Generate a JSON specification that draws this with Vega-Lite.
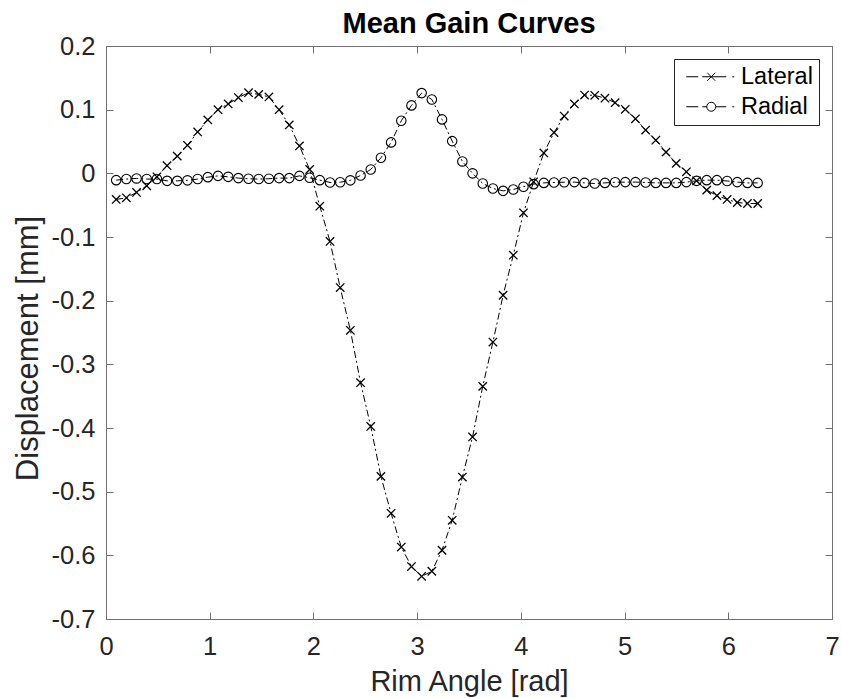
{
  "$schema": "https://vega.github.io/schema/vega-lite/v6.json",
  "width": 726,
  "height": 573,
  "autosize": {"type": "none"},
  "padding": {"left": 106, "top": 46, "right": 10, "bottom": 79},
  "background": "white",
  "title": {"text": "Mean Gain Curves", "font": "Liberation Sans", "fontSize": 29, "fontWeight": "bold", "color": "black", "anchor": "middle", "frame": "group", "baseline": "alphabetic", "offset": 0, "dy": 28},
  "config": {
    "view": {"stroke": null},
    "axis": {"grid": false, "domainColor": "#707070", "tickColor": "#707070", "domainWidth": 1, "tickWidth": 1, "labelFont": "Liberation Sans", "labelColor": "#262626", "labelFontSize": 25.5, "titleFont": "Liberation Sans", "titleColor": "#262626", "titleFontWeight": "normal", "titleFontSize": 29, "labelFlush": false, "labelOverlap": false}
  },
  "data": {"values": [
    {"k":1,"x":0.0982,"series":"Lateral","y":-0.041},{"k":2,"x":0.1963,"series":"Lateral","y":-0.0385},{"k":3,"x":0.2945,"series":"Lateral","y":-0.030},{"k":4,"x":0.3927,"series":"Lateral","y":-0.0196},{"k":5,"x":0.4909,"series":"Lateral","y":-0.0055},{"k":6,"x":0.5890,"series":"Lateral","y":0.012},{"k":7,"x":0.6872,"series":"Lateral","y":0.027},{"k":8,"x":0.7854,"series":"Lateral","y":0.044},{"k":9,"x":0.8836,"series":"Lateral","y":0.065},{"k":10,"x":0.9817,"series":"Lateral","y":0.084},
    {"k":11,"x":1.0799,"series":"Lateral","y":0.100},{"k":12,"x":1.1781,"series":"Lateral","y":0.109},{"k":13,"x":1.2763,"series":"Lateral","y":0.119},{"k":14,"x":1.3744,"series":"Lateral","y":0.1266},{"k":15,"x":1.4726,"series":"Lateral","y":0.124},{"k":16,"x":1.5708,"series":"Lateral","y":0.120},{"k":17,"x":1.6690,"series":"Lateral","y":0.100},{"k":18,"x":1.7671,"series":"Lateral","y":0.076},{"k":19,"x":1.8653,"series":"Lateral","y":0.043},{"k":20,"x":1.9635,"series":"Lateral","y":0.006},
    {"k":21,"x":2.0617,"series":"Lateral","y":-0.0516},{"k":22,"x":2.1598,"series":"Lateral","y":-0.107},{"k":23,"x":2.2580,"series":"Lateral","y":-0.1794},{"k":24,"x":2.3562,"series":"Lateral","y":-0.2465},{"k":25,"x":2.4544,"series":"Lateral","y":-0.3288},{"k":26,"x":2.5525,"series":"Lateral","y":-0.3975},{"k":27,"x":2.6507,"series":"Lateral","y":-0.476},{"k":28,"x":2.7489,"series":"Lateral","y":-0.534},{"k":29,"x":2.8471,"series":"Lateral","y":-0.587},{"k":30,"x":2.9452,"series":"Lateral","y":-0.6176},
    {"k":31,"x":3.0434,"series":"Lateral","y":-0.633},{"k":32,"x":3.1416,"series":"Lateral","y":-0.625},{"k":33,"x":3.2398,"series":"Lateral","y":-0.592},{"k":34,"x":3.3379,"series":"Lateral","y":-0.545},{"k":35,"x":3.4361,"series":"Lateral","y":-0.477},{"k":36,"x":3.5343,"series":"Lateral","y":-0.414},{"k":37,"x":3.6325,"series":"Lateral","y":-0.3346},{"k":38,"x":3.7306,"series":"Lateral","y":-0.265},{"k":39,"x":3.8288,"series":"Lateral","y":-0.1915},{"k":40,"x":3.9270,"series":"Lateral","y":-0.1286},
    {"k":41,"x":4.0252,"series":"Lateral","y":-0.062},{"k":42,"x":4.1233,"series":"Lateral","y":-0.0133},{"k":43,"x":4.2215,"series":"Lateral","y":0.032},{"k":44,"x":4.3197,"series":"Lateral","y":0.064},{"k":45,"x":4.4179,"series":"Lateral","y":0.090},{"k":46,"x":4.5160,"series":"Lateral","y":0.109},{"k":47,"x":4.6142,"series":"Lateral","y":0.123},{"k":48,"x":4.7124,"series":"Lateral","y":0.1225},{"k":49,"x":4.8106,"series":"Lateral","y":0.118},{"k":50,"x":4.9087,"series":"Lateral","y":0.111},
    {"k":51,"x":5.0069,"series":"Lateral","y":0.1005},{"k":52,"x":5.1051,"series":"Lateral","y":0.0857},{"k":53,"x":5.2033,"series":"Lateral","y":0.068},{"k":54,"x":5.3014,"series":"Lateral","y":0.052},{"k":55,"x":5.3996,"series":"Lateral","y":0.0333},{"k":56,"x":5.4978,"series":"Lateral","y":0.0156},{"k":57,"x":5.5960,"series":"Lateral","y":0.0024},{"k":58,"x":5.6941,"series":"Lateral","y":-0.0118},{"k":59,"x":5.7923,"series":"Lateral","y":-0.0264},{"k":60,"x":5.8905,"series":"Lateral","y":-0.035},
    {"k":61,"x":5.9887,"series":"Lateral","y":-0.041},{"k":62,"x":6.0868,"series":"Lateral","y":-0.0458},{"k":63,"x":6.1850,"series":"Lateral","y":-0.0474},{"k":64,"x":6.2832,"series":"Lateral","y":-0.0474},
    {"k":1,"x":0.0982,"series":"Radial","y":-0.0107},{"k":2,"x":0.1963,"series":"Radial","y":-0.009},{"k":3,"x":0.2945,"series":"Radial","y":-0.008},{"k":4,"x":0.3927,"series":"Radial","y":-0.009},{"k":5,"x":0.4909,"series":"Radial","y":-0.009},{"k":6,"x":0.5890,"series":"Radial","y":-0.0118},{"k":7,"x":0.6872,"series":"Radial","y":-0.0118},{"k":8,"x":0.7854,"series":"Radial","y":-0.011},{"k":9,"x":0.8836,"series":"Radial","y":-0.009},{"k":10,"x":0.9817,"series":"Radial","y":-0.006},
    {"k":11,"x":1.0799,"series":"Radial","y":-0.004},{"k":12,"x":1.1781,"series":"Radial","y":-0.0055},{"k":13,"x":1.2763,"series":"Radial","y":-0.0075},{"k":14,"x":1.3744,"series":"Radial","y":-0.0085},{"k":15,"x":1.4726,"series":"Radial","y":-0.009},{"k":16,"x":1.5708,"series":"Radial","y":-0.0085},{"k":17,"x":1.6690,"series":"Radial","y":-0.0075},{"k":18,"x":1.7671,"series":"Radial","y":-0.0075},{"k":19,"x":1.8653,"series":"Radial","y":-0.004},{"k":20,"x":1.9635,"series":"Radial","y":-0.007},
    {"k":21,"x":2.0617,"series":"Radial","y":-0.0107},{"k":22,"x":2.1598,"series":"Radial","y":-0.0143},{"k":23,"x":2.2580,"series":"Radial","y":-0.014},{"k":24,"x":2.3562,"series":"Radial","y":-0.011},{"k":25,"x":2.4544,"series":"Radial","y":-0.0033},{"k":26,"x":2.5525,"series":"Radial","y":0.006},{"k":27,"x":2.6507,"series":"Radial","y":0.0244},{"k":28,"x":2.7489,"series":"Radial","y":0.0486},{"k":29,"x":2.8471,"series":"Radial","y":0.0826},{"k":30,"x":2.9452,"series":"Radial","y":0.1067},
    {"k":31,"x":3.0434,"series":"Radial","y":0.126},{"k":32,"x":3.1416,"series":"Radial","y":0.116},{"k":33,"x":3.2398,"series":"Radial","y":0.0847},{"k":34,"x":3.3379,"series":"Radial","y":0.0506},{"k":35,"x":3.4361,"series":"Radial","y":0.0187},{"k":36,"x":3.5343,"series":"Radial","y":0.0},{"k":37,"x":3.6325,"series":"Radial","y":-0.016},{"k":38,"x":3.7306,"series":"Radial","y":-0.0238},{"k":39,"x":3.8288,"series":"Radial","y":-0.0275},{"k":40,"x":3.9270,"series":"Radial","y":-0.0254},
    {"k":41,"x":4.0252,"series":"Radial","y":-0.021},{"k":42,"x":4.1233,"series":"Radial","y":-0.017},{"k":43,"x":4.2215,"series":"Radial","y":-0.015},{"k":44,"x":4.3197,"series":"Radial","y":-0.0143},{"k":45,"x":4.4179,"series":"Radial","y":-0.014},{"k":46,"x":4.5160,"series":"Radial","y":-0.0138},{"k":47,"x":4.6142,"series":"Radial","y":-0.015},{"k":48,"x":4.7124,"series":"Radial","y":-0.016},{"k":49,"x":4.8106,"series":"Radial","y":-0.015},{"k":50,"x":4.9087,"series":"Radial","y":-0.014},
    {"k":51,"x":5.0069,"series":"Radial","y":-0.0138},{"k":52,"x":5.1051,"series":"Radial","y":-0.0138},{"k":53,"x":5.2033,"series":"Radial","y":-0.0143},{"k":54,"x":5.3014,"series":"Radial","y":-0.015},{"k":55,"x":5.3996,"series":"Radial","y":-0.015},{"k":56,"x":5.4978,"series":"Radial","y":-0.015},{"k":57,"x":5.5960,"series":"Radial","y":-0.0138},{"k":58,"x":5.6941,"series":"Radial","y":-0.0118},{"k":59,"x":5.7923,"series":"Radial","y":-0.0107},{"k":60,"x":5.8905,"series":"Radial","y":-0.0107},
    {"k":61,"x":5.9887,"series":"Radial","y":-0.012},{"k":62,"x":6.0868,"series":"Radial","y":-0.0138},{"k":63,"x":6.1850,"series":"Radial","y":-0.015},{"k":64,"x":6.2832,"series":"Radial","y":-0.015}
  ]},
  "layer": [
    {
      "mark": {"type": "line", "stroke": "black", "strokeWidth": 1, "strokeDash": [7, 3, 2, 3]},
      "encoding": {
        "x": {"field": "x", "type": "quantitative", "scale": {"domain": [0, 7], "nice": false, "zero": false},
              "axis": {"orient": "bottom", "values": [0,1,2,3,4,5,6,7], "format": "d", "tickSize": -7, "labelPadding": 22.5, "title": "Rim Angle [rad]", "titleBaseline": "alphabetic", "titleY": 71}},
        "y": {"field": "y", "type": "quantitative", "scale": {"domain": [-0.7, 0.2], "nice": false, "zero": false},
              "axis": {"orient": "left", "values": [-0.7,-0.6,-0.5,-0.4,-0.3,-0.2,-0.1,0,0.1,0.2], "format": ".1~f", "labelExpr": "replace(datum.label, '\u2212', '-')", "tickSize": -7, "labelPadding": 18, "title": "Displacement [mm]", "titleFontSize": 31, "titleBaseline": "alphabetic", "titleX": -69, "titleY": 302}},
        "detail": {"field": "series"}
      }
    },
    {
      "transform": [{"filter": "datum.series === 'Lateral'"}],
      "mark": {"type": "point", "shape": "M-1,-1L1,1M-1,1L1,-1", "size": 70, "filled": false, "stroke": "black", "strokeWidth": 1.3, "opacity": 1},
      "encoding": {
        "x": {"field": "x", "type": "quantitative", "axis": {"orient": "top", "values": [0,1,2,3,4,5,6,7], "labels": false, "tickSize": -7, "title": null}},
        "y": {"field": "y", "type": "quantitative", "axis": {"orient": "right", "values": [-0.7,-0.6,-0.5,-0.4,-0.3,-0.2,-0.1,0,0.1,0.2], "labels": false, "tickSize": -7, "title": null}}
      }
    },
    {
      "transform": [{"filter": "datum.series === 'Radial'"}],
      "mark": {"type": "point", "shape": "circle", "size": 90, "filled": false, "stroke": "black", "strokeWidth": 1.1, "opacity": 1},
      "encoding": {
        "x": {"field": "x", "type": "quantitative", "axis": null},
        "y": {"field": "y", "type": "quantitative", "axis": null}
      }
    },
    {
      "transform": [{"filter": "datum.x < 0"}],
      "mark": {"type": "point", "filled": false, "stroke": "black", "strokeWidth": 1, "opacity": 1},
      "encoding": {
        "x": {"field": "x", "type": "quantitative", "axis": null},
        "y": {"field": "y", "type": "quantitative", "axis": null},
        "shape": {"field": "series", "type": "nominal",
          "scale": {"domain": ["Lateral", "Radial"], "range": [
            "M-5,0L-2.6,0M-1.8,0L3,0M4.2,0L4.6,0M-0.8,-0.8L0.8,0.8M-0.8,0.8L0.8,-0.8",
            "M-5,0L-2.6,0M-1.8,0L-0.9,0M0.9,0L3,0M4.2,0L4.6,0M0.9,0A0.9,0.9,0,1,1,-0.9,0A0.9,0.9,0,1,1,0.9,0"
          ]},
          "legend": {"orient": "top-right", "offset": 13, "title": null, "strokeColor": "#262626", "fillColor": "white", "padding": 6, "rowPadding": 5, "labelFont": "Liberation Sans", "labelFontSize": 23.5, "labelColor": "black", "labelOffset": 18, "symbolOffset": 19.5, "symbolSize": 100, "symbolStrokeColor": "black", "symbolFillColor": "transparent", "symbolStrokeWidth": 1, "symbolOpacity": 1}
        }
      }
    }
  ],
  "resolve": {"axis": {"x": "independent", "y": "independent"}}
}
